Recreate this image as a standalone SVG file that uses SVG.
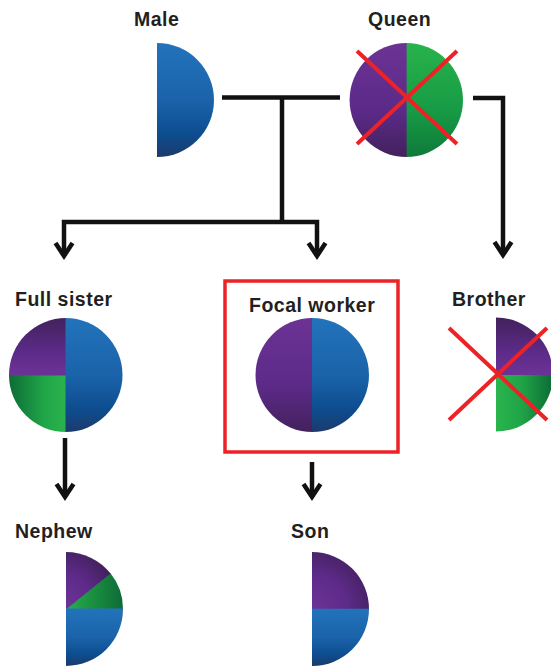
<svg xmlns="http://www.w3.org/2000/svg" width="551" height="666" viewBox="0 0 551 666">
<style>
.lbl{font-family:"Liberation Sans",Arial,sans-serif;font-weight:bold;font-size:19.5px;fill:#231f20;letter-spacing:0.5px}
.ln{fill:none;stroke:#111;stroke-width:4.5;stroke-linecap:butt;stroke-linejoin:miter}
.ah{fill:none;stroke:#111;stroke-width:4.5;stroke-linejoin:miter;stroke-miterlimit:10}
.x{stroke:#ec2227;stroke-width:4;stroke-linecap:butt}
</style>
<defs>
<linearGradient id="blueV" x1="0" y1="0" x2="0" y2="1">
<stop offset="0" stop-color="#2273bb"/><stop offset="0.5" stop-color="#1b63aa"/><stop offset="0.8" stop-color="#0d4d8f"/><stop offset="1" stop-color="#1c3a6c"/>
</linearGradient>
<linearGradient id="purpleDown" x1="0" y1="0" x2="0" y2="1">
<stop offset="0" stop-color="#6c3394"/><stop offset="0.6" stop-color="#5b2a88"/><stop offset="1" stop-color="#43215c"/>
</linearGradient>
<linearGradient id="purpleUp" x1="0" y1="0" x2="0" y2="1">
<stop offset="0" stop-color="#43215c"/><stop offset="0.6" stop-color="#5c2b89"/><stop offset="1" stop-color="#6c3396"/>
</linearGradient>
<linearGradient id="greenDown" x1="0" y1="0" x2="0" y2="1">
<stop offset="0" stop-color="#28b34b"/><stop offset="0.6" stop-color="#179a45"/><stop offset="1" stop-color="#0f7a3a"/>
</linearGradient>
<linearGradient id="greenLR" x1="0" y1="0" x2="1" y2="0">
<stop offset="0" stop-color="#0e6b36"/><stop offset="0.6" stop-color="#1fa447"/><stop offset="1" stop-color="#2ab44d"/>
</linearGradient>
<linearGradient id="greenRL" x1="0" y1="0" x2="1" y2="0">
<stop offset="0" stop-color="#2ab44d"/><stop offset="0.45" stop-color="#1fa447"/><stop offset="1" stop-color="#0e6b36"/>
</linearGradient>
<radialGradient id="purpleRad" cx="0" cy="1" r="1.2">
<stop offset="0" stop-color="#6c3396"/><stop offset="0.5" stop-color="#5e2b8a"/><stop offset="1" stop-color="#3f1f58"/>
</radialGradient>
<linearGradient id="greenDiag" x1="0" y1="0.5" x2="1" y2="0.5">
<stop offset="0" stop-color="#26b04b"/><stop offset="1" stop-color="#0e6b36"/>
</linearGradient>
</defs>

<g id="male">
<text class="lbl" x="134" y="26">Male</text>
<path d="M157,43 A57,57 0 0 1 157,157 Z" fill="url(#blueV)"/>
</g>

<g id="queen">
<text class="lbl" x="368" y="26">Queen</text>
<path d="M406,43 A57,57 0 0 1 406,157 Z" fill="url(#greenDown)"/>
<path d="M406.6,43 A57,57 0 0 0 406.6,157 Z" fill="url(#purpleDown)"/>
<line class="x" x1="357" y1="51" x2="457" y2="144"/>
<line class="x" x1="457" y1="51" x2="357" y2="144"/>
</g>

<g id="full-sister">
<text class="lbl" x="15" y="306">Full sister</text>
<path d="M66,375 L9,375 A57,57 0 0 0 66,432 Z" fill="url(#greenLR)"/>
<path d="M66,375.5 L66,318 A57,57 0 0 0 9,375.5 Z" fill="url(#purpleUp)"/>
<path d="M65.5,318 A57,57 0 0 1 65.5,432 Z" fill="url(#blueV)"/>
</g>

<g id="focal-worker">
<rect x="225" y="281" width="173" height="171" fill="none" stroke="#ec2227" stroke-width="3.5"/>
<text class="lbl" x="249" y="312">Focal worker</text>
<path d="M312.5,318 A57,57 0 0 0 312.5,432 Z" fill="url(#purpleDown)"/>
<path d="M312,318 A57,57 0 0 1 312,432 Z" fill="url(#blueV)"/>
</g>

<g id="brother">
<text class="lbl" x="452" y="306">Brother</text>
<path d="M496,374.5 L553,374.5 A57,57 0 0 1 496,431.5 Z" fill="url(#greenRL)"/>
<path d="M496,375 L496,317.5 A57,57 0 0 1 553,375 Z" fill="url(#purpleUp)"/>
<line class="x" x1="449" y1="328" x2="547" y2="420"/>
<line class="x" x1="547" y1="328" x2="449" y2="420"/>
</g>

<g id="nephew">
<text class="lbl" x="15" y="538">Nephew</text>
<path d="M66,609 L110.3,573.1 A57,57 0 0 1 123,609 Z" fill="url(#greenDiag)"/>
<path d="M66,609.5 L66,552 A57,57 0 0 1 110.6,573.5 Z" fill="url(#purpleRad)"/>
<path d="M66,608.5 L123,608.5 A57,57 0 0 1 66,666 Z" fill="url(#blueV)"/>
</g>

<g id="son">
<text class="lbl" x="291" y="538">Son</text>
<path d="M312,609.5 L312,552 A57,57 0 0 1 369,609.5 Z" fill="url(#purpleRad)"/>
<path d="M312,608.8 L369,608.8 A57,57 0 0 1 312,666 Z" fill="url(#blueV)"/>
</g>

<g id="connectors">
<path class="ln" d="M222,97.5 H340"/>
<path class="ln" d="M282,97.5 V222"/>
<path class="ln" d="M64,256 V222 H317 V256"/>
<path class="ln" d="M473,98 H503 V255"/>
<path class="ln" d="M65,438 V497"/>
<path class="ln" d="M312,462 V497"/>
<path class="ah" d="M55.5,243 L64,256 L72.5,243"/>
<path class="ah" d="M308.5,243 L317,256 L325.5,243"/>
<path class="ah" d="M494.5,242 L503,255 L511.5,242"/>
<path class="ah" d="M56.5,484 L65,497 L73.5,484"/>
<path class="ah" d="M303.5,484 L312,497 L320.5,484"/>
</g>
</svg>
